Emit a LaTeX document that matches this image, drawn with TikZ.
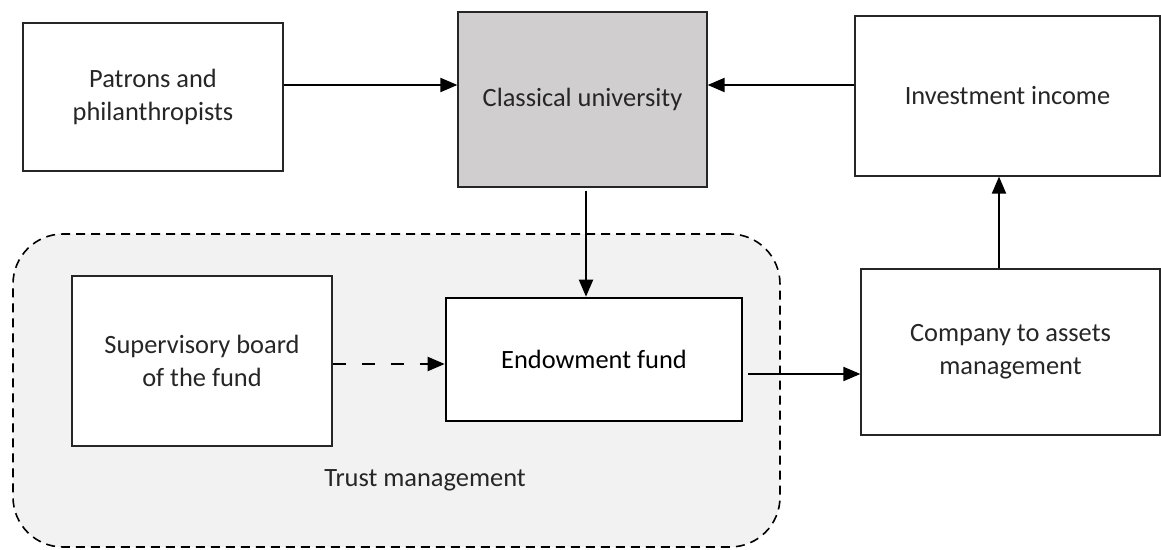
\documentclass[tikz,border=0pt]{standalone}
\usepackage{fontspec}
\setmainfont{Carlito}
\usetikzlibrary{arrows.meta, positioning}
\definecolor{unigray}{HTML}{D0CECE}
\definecolor{trustgray}{HTML}{F2F2F2}
\definecolor{txtgray}{HTML}{262626}

\begin{document}
\begin{tikzpicture}[x=0.5pt, y=-0.5pt,
   box/.style={draw=black!85, line width=0.6pt, fill=white, align=center, inner sep=0pt,
     text=txtgray, font=\fontsize{13.2}{16.5}\selectfont},
   arr/.style={line width=1pt, -{Triangle[length=8.5pt,width=7pt]}}]
\useasboundingbox (0,0) rectangle (1161,550);

\node[draw=black, dashed, dash pattern=on 4.5pt off 3pt, line width=0.8pt, fill=trustgray,
   rounded corners=25pt, minimum width=383.5pt, minimum height=156.5pt, inner sep=0pt] (trust) at (396.5,390.5) {};
\node[text=txtgray, font=\fontsize{13.2}{16.5}\selectfont] (trustlabel) at (425,480) {Trust management};

\node[box, minimum width=130pt, minimum height=74pt] (patrons) at (153,97) {Patrons and\\philanthropists};
\node[box, fill=unigray, minimum width=124.5pt, minimum height=87.5pt] (univ) at (582.5,99.5) {Classical university};
\node[box, minimum width=152.5pt, minimum height=80pt] (invest) at (1007.5,96) {Investment income};
\node[box, minimum width=149.5pt, minimum height=83pt] (company) at (1010.5,352) {Company to assets\\management};
\node[box, draw=black, line width=1.3pt, text=black, minimum width=148pt, minimum height=61.5pt] (endow) at (594,359.5) {Endowment fund};
\node[box, minimum width=130pt, minimum height=85pt] (board) at (202,361) {Supervisory board\\of the fund};

\draw[arr] ([yshift=6pt]patrons.east) -- ([yshift=6pt]patrons.east -| univ.west);
\draw[arr] ([yshift=5.5pt]invest.west) -- ([yshift=5.5pt]invest.west -| univ.east);
\draw[arr, shorten <=1.5pt] ([xshift=1.75pt]univ.south) -- ([xshift=1.75pt]univ.south |- endow.north);
\draw[arr, shorten <=2.5pt] ([yshift=-7.25pt]endow.east) -- ([yshift=-7.25pt]endow.east -| company.west);
\draw[arr, dashed, dash pattern=on 6.5pt off 8pt] ([yshift=-1.5pt]board.east) -- ([yshift=-1.5pt]board.east -| endow.west);
\draw[arr] ([xshift=-5.75pt]company.north) -- ([xshift=-5.75pt]company.north |- invest.south);
\end{tikzpicture}
\end{document}
